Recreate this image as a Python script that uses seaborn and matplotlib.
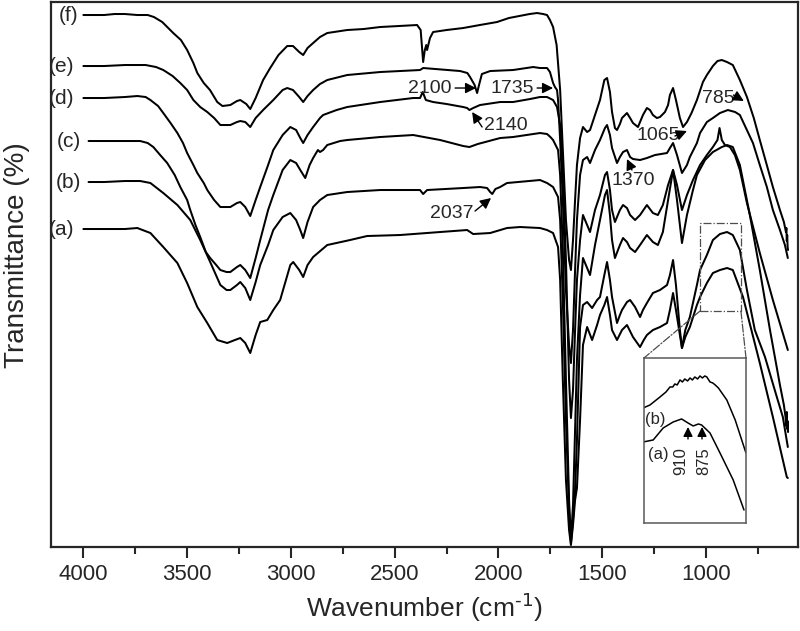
import pandas as pd
import seaborn as sns
import matplotlib.pyplot as plt
from matplotlib.ticker import MultipleLocator
from matplotlib.patches import ConnectionPatch

# DATA ----------------------------------------------------------------------------
# FTIR spectra (a)-(f), stacked, transmittance in arbitrary offset units
f_pts = [(4000, 532), (3950, 532), (3900, 532), (3850, 533), (3800, 533), (3740, 532), (3690, 532),
         (3660, 530), (3620, 525), (3567, 514), (3530, 507), (3500, 497), (3470, 484), (3451, 474),
         (3420, 464), (3390, 457), (3355, 445), (3330, 441), (3292, 442), (3260, 446), (3244, 447),
         (3215, 443), (3196, 438), (3170, 449), (3134, 467), (3100, 479), (3060, 492), (3018, 501),
         (2990, 501), (2960, 495), (2941, 492), (2920, 499), (2893, 504), (2860, 510), (2825, 514),
         (2729, 517), (2650, 518), (2570, 520), (2480, 521), (2392, 522), (2375, 517), (2363, 485),
         (2355, 497), (2348, 502), (2344, 497), (2330, 509), (2315, 515), (2250, 517), (2170, 519),
         (2090, 522), (2007, 525), (1950, 529), (1900, 531), (1850, 533), (1814, 534), (1785, 533),
         (1766, 532), (1752, 527), (1737, 520), (1720, 502), (1703, 457), (1690, 397), (1675, 327),
         (1660, 287), (1651, 277), (1641, 307), (1631, 347), (1622, 382), (1607, 409), (1593, 420),
         (1573, 415), (1559, 417), (1535, 432), (1511, 447), (1490, 467), (1477, 469), (1463, 455),
         (1453, 435), (1439, 419), (1429, 417), (1415, 423), (1405, 429), (1381, 434), (1366, 429),
         (1352, 424), (1328, 420), (1304, 432), (1285, 439), (1270, 437), (1256, 432), (1237, 429),
         (1222, 430), (1198, 435), (1183, 442), (1174, 452), (1159, 459), (1145, 447), (1126, 429),
         (1111, 420), (1092, 425), (1070, 434), (1044, 447), (1015, 465), (996, 472), (967, 481),
         (945, 486), (924, 487), (899, 485), (871, 482), (837, 467), (803, 450), (770, 429),
         (741, 407), (710, 384), (678, 360), (644, 337), (625, 325), (615, 315), (613, 319),
         (611, 306), (609, 312), (607, 300), (605, 297)]

e_pts = [(4000, 481), (3900, 481), (3800, 482), (3700, 482), (3650, 480), (3615, 477), (3570, 471),
         (3533, 464), (3500, 457), (3470, 447), (3437, 440), (3403, 435), (3370, 429), (3340, 422),
         (3292, 422), (3260, 425), (3244, 426), (3220, 425), (3196, 420), (3170, 429), (3134, 437),
         (3085, 447), (3040, 457), (3018, 459), (2990, 457), (2960, 450), (2941, 445), (2920, 451),
         (2893, 457), (2860, 463), (2825, 467), (2729, 472), (2570, 475), (2378, 477), (2363, 479),
         (2185, 476), (2150, 474), (2137, 470), (2115, 462), (2103, 454), (2095, 461), (2080, 473),
         (2040, 476), (1930, 477), (1833, 480), (1800, 479), (1766, 479), (1752, 475), (1737, 464),
         (1728, 460), (1718, 457), (1713, 447), (1703, 407), (1690, 347), (1675, 257), (1660, 202),
         (1651, 184), (1641, 217), (1631, 277), (1622, 327), (1607, 372), (1593, 387), (1573, 390),
         (1559, 384), (1535, 397), (1511, 407), (1487, 419), (1477, 422), (1463, 412), (1453, 399),
         (1429, 384), (1415, 390), (1400, 395), (1381, 397), (1366, 390), (1352, 388), (1318, 387),
         (1285, 389), (1246, 392), (1188, 394), (1174, 399), (1159, 404), (1140, 392), (1116, 374),
         (1092, 382), (1078, 390), (1044, 404), (1029, 414), (996, 425), (967, 429), (933, 434),
         (895, 437), (860, 435), (837, 432), (774, 404), (741, 382), (707, 360), (678, 337),
         (644, 317), (620, 302), (606, 289)]

d_pts = [(4000, 449), (3900, 449), (3800, 450), (3740, 451), (3700, 450), (3677, 447), (3640, 441),
         (3615, 434), (3580, 424), (3547, 414), (3520, 404), (3500, 394), (3470, 382), (3451, 374),
         (3420, 364), (3403, 357), (3370, 347), (3340, 340), (3292, 340), (3260, 344), (3244, 345),
         (3220, 340), (3196, 331), (3170, 347), (3148, 360), (3110, 382), (3085, 397), (3040, 412),
         (3003, 420), (2975, 417), (2955, 409), (2941, 404), (2920, 412), (2893, 420), (2860, 429),
         (2845, 432), (2780, 437), (2729, 440), (2570, 445), (2411, 449), (2378, 449), (2365, 455),
         (2350, 447), (2315, 445), (2250, 443), (2170, 440), (2151, 439), (2140, 437), (2122, 439),
         (2089, 442), (1992, 445), (1930, 445), (1848, 448), (1800, 450), (1766, 450), (1737, 447),
         (1718, 440), (1703, 422), (1690, 377), (1675, 287), (1660, 167), (1651, 129), (1641, 157),
         (1631, 217), (1622, 267), (1607, 307), (1593, 332), (1573, 322), (1559, 315), (1535, 337),
         (1511, 352), (1487, 372), (1477, 375), (1463, 357), (1453, 337), (1439, 325), (1415, 337),
         (1400, 342), (1381, 339), (1366, 332), (1342, 327), (1318, 332), (1285, 342), (1256, 334),
         (1232, 332), (1208, 342), (1183, 362), (1159, 377), (1140, 362), (1116, 337), (1092, 352),
         (1063, 367), (1029, 382), (996, 392), (967, 400), (945, 407), (935, 419), (924, 407),
         (909, 402), (885, 400), (861, 392), (837, 377), (803, 344), (741, 294), (678, 247),
         (606, 197)]

c_pts = [(3975, 406), (3900, 406), (3800, 406), (3726, 406), (3690, 404), (3663, 400), (3630, 392),
         (3596, 384), (3560, 372), (3533, 360), (3500, 347), (3485, 337), (3460, 322), (3437, 310),
         (3410, 295), (3389, 289), (3360, 282), (3340, 277), (3310, 275), (3292, 275), (3260, 280),
         (3244, 282), (3220, 277), (3196, 269), (3170, 289), (3148, 307), (3110, 337), (3085, 352),
         (3040, 377), (3003, 387), (2975, 384), (2955, 377), (2931, 369), (2910, 382), (2893, 389),
         (2870, 397), (2860, 395), (2845, 397), (2825, 402), (2763, 406), (2729, 407), (2570, 410),
         (2411, 412), (2281, 407), (2170, 401), (2140, 400), (2100, 403), (1992, 409), (1930, 410),
         (1800, 414), (1766, 413), (1750, 410), (1737, 407), (1713, 397), (1703, 372), (1690, 297),
         (1675, 167), (1660, 47), (1651, 7), (1641, 42), (1631, 117), (1622, 187), (1607, 252),
         (1593, 289), (1573, 279), (1559, 272), (1535, 302), (1511, 327), (1487, 352), (1477, 357),
         (1463, 332), (1453, 307), (1439, 289), (1415, 302), (1400, 309), (1381, 305), (1366, 299),
         (1342, 295), (1318, 302), (1285, 312), (1256, 305), (1232, 302), (1208, 315), (1183, 347),
         (1159, 377), (1140, 347), (1116, 304), (1092, 332), (1063, 357), (1044, 372), (1005, 387),
         (967, 395), (924, 400), (899, 402), (871, 400), (837, 382), (789, 332), (741, 277),
         (692, 217), (644, 162), (625, 142), (617, 130), (614, 121), (611, 135), (609, 118),
         (607, 126), (605, 115)]

b_pts = [(3975, 365), (3900, 365), (3800, 366), (3726, 366), (3677, 364), (3615, 354), (3547, 342),
         (3485, 327), (3437, 307), (3389, 285), (3340, 262), (3310, 257), (3292, 257), (3260, 262),
         (3244, 265), (3220, 259), (3196, 247), (3170, 265), (3148, 282), (3110, 302), (3085, 317),
         (3040, 330), (3003, 334), (2975, 327), (2955, 317), (2941, 309), (2920, 325), (2893, 340),
         (2860, 347), (2825, 352), (2729, 355), (2570, 357), (2378, 357), (2363, 353), (2344, 357),
         (2170, 359), (2089, 360), (2055, 359), (2040, 355), (2030, 353), (2015, 358), (1992, 360),
         (1959, 364), (1800, 367), (1766, 364), (1737, 360), (1713, 350), (1703, 327), (1690, 247),
         (1675, 127), (1660, 37), (1651, 4), (1641, 27), (1631, 57), (1622, 107), (1607, 220),
         (1593, 242), (1573, 245), (1549, 239), (1525, 247), (1511, 250), (1490, 272), (1477, 285),
         (1463, 267), (1453, 250), (1429, 224), (1415, 232), (1405, 237), (1381, 245), (1366, 247),
         (1342, 240), (1318, 230), (1304, 237), (1285, 244), (1256, 254), (1222, 257), (1188, 262),
         (1174, 272), (1159, 287), (1145, 262), (1126, 217), (1116, 199), (1100, 217), (1078, 230),
         (1044, 262), (1029, 277), (996, 292), (967, 307), (933, 313), (899, 315), (871, 312),
         (837, 297), (803, 257), (765, 217), (716, 190), (659, 150), (630, 130), (606, 100)]

a_pts = [(4000, 318), (3900, 318), (3800, 318), (3740, 319), (3677, 314), (3615, 300), (3547, 284),
         (3500, 264), (3451, 240), (3403, 224), (3355, 207), (3307, 204), (3270, 207), (3244, 209),
         (3220, 204), (3196, 194), (3170, 212), (3148, 225), (3114, 227), (3085, 237), (3052, 247),
         (3003, 282), (2989, 285), (2960, 277), (2941, 270), (2920, 282), (2893, 290), (2825, 302),
         (2715, 307), (2633, 311), (2474, 312), (2281, 315), (2151, 317), (2122, 313), (2040, 314),
         (1959, 319), (1896, 320), (1800, 319), (1766, 317), (1737, 314), (1713, 300), (1703, 267),
         (1690, 167), (1675, 67), (1660, 17), (1651, 2), (1641, 22), (1631, 47), (1622, 59),
         (1607, 127), (1593, 202), (1573, 220), (1549, 207), (1525, 222), (1511, 232), (1490, 242),
         (1477, 250), (1463, 232), (1453, 217), (1429, 207), (1405, 217), (1381, 222), (1352, 210),
         (1318, 200), (1300, 207), (1285, 212), (1256, 217), (1222, 220), (1188, 224), (1174, 237),
         (1159, 254), (1145, 237), (1126, 212), (1116, 199), (1100, 210), (1078, 220), (1044, 242),
         (1029, 250), (996, 264), (967, 274), (933, 277), (899, 279), (871, 277), (822, 250),
         (741, 184), (678, 130), (611, 70), (606, 69)]

curve_names = ['(a)', '(b)', '(c)', '(d)', '(e)', '(f)']
curve_points = [a_pts, b_pts, c_pts, d_pts, e_pts, f_pts]

# inset: zoom of (a) and (b) between 1020 and 765 cm-1 (own vertical scale)
inset_b_pts = [(1022, 115), (1005, 118), (980, 126), (965, 131), (955, 136), (948, 136), (943, 139),
               (937, 138), (930, 143), (924, 141), (918, 144), (911, 142), (905, 145), (899, 143),
               (893, 146), (886, 144), (880, 147), (874, 145), (868, 147), (863, 146), (855, 141),
               (848, 140), (842, 138), (834, 135), (813, 123), (792, 103), (770, 76), (765, 70)]
inset_a_pts = [(1022, 81), (997, 83), (972, 95), (947, 101), (926, 104), (910, 100), (897, 97),
               (884, 99), (876, 98), (855, 90), (830, 70), (797, 43), (770, 13)]

# zoom box in the main panel
box_wn = [1029, 832]
box_t = [236, 324]

# FIGURE ----------------------------------------------------------------------------
sns.set_style("ticks")
plt.rcParams['font.family'] = ['Liberation Sans', 'DejaVu Sans']

rows = []
for name, pts in zip(curve_names, curve_points):
    for w, t in pts:
        rows.append({'wn': w, 't': t, 'sample': name})
df = pd.DataFrame(rows)

fig = plt.figure(figsize=(8, 6.31), dpi=100)
ax = fig.add_axes([0.064, 0.1331, 0.9335, 0.8637])

sns.lineplot(data=df, x='wn', y='t', units='sample', estimator=None, sort=False,
             color='black', lw=1.45, ax=ax)

ax.set_xlim(4155, 557)
ax.set_ylim(0, 545)
ax.set_yticks([])
ax.xaxis.set_minor_locator(MultipleLocator(250))
ax.set_xticks([4000, 3500, 3000, 2500, 2000, 1500, 1000])
ax.tick_params(axis='x', which='major', direction='out', length=8, width=1.5, labelsize=16, pad=4)
ax.tick_params(axis='x', which='minor', direction='out', length=5, width=1.5)
for s in ax.spines.values():
    s.set_linewidth(1.6)
ax.set_xlabel(r'Wavenumber (cm$^{\text{-1}}$)', fontsize=19, labelpad=4)
ax.set_ylabel('Transmittance (%)', fontsize=20)
ax.yaxis.set_label_coords(-0.028, 0.535)

# curve labels
label_pos = {'(f)': (4072, 532), '(e)': (4106, 481), '(d)': (4106, 449),
             '(c)': (4072, 406), '(b)': (4072, 365), '(a)': (4106, 318)}
for name, (x, y) in label_pos.items():
    ax.text(x, y, name, fontsize=15, ha='center', va='center')

# peak annotations
arrow = dict(arrowstyle='-|>', color='black', lw=1, mutation_scale=16, shrinkA=0, shrinkB=0)
ax.text(2329, 459, '2100', fontsize=14, ha='center', va='center')
ax.annotate('', xy=(2108, 459), xytext=(2209, 459), arrowprops=arrow)
ax.text(1935, 459, '1735', fontsize=14, ha='center', va='center')
ax.annotate('', xy=(1737, 459), xytext=(1814, 459), arrowprops=arrow)
ax.text(1963, 422, '2140', fontsize=14, ha='center', va='center')
ax.annotate('', xy=(2127, 435), xytext=(2079, 420), arrowprops=arrow)
ax.text(2223, 334, '2037', fontsize=14, ha='center', va='center')
ax.annotate('', xy=(2036, 349), xytext=(2113, 336), arrowprops=arrow)
ax.text(1352, 367, '1370', fontsize=14, ha='center', va='center')
ax.annotate('', xy=(1381, 388), xytext=(1357, 377), arrowprops=arrow)
ax.text(1232, 412, '1065', fontsize=14, ha='center', va='center')
ax.annotate('', xy=(1092, 416), xytext=(1150, 411), arrowprops=arrow)
ax.text(943, 449, '785', fontsize=14, ha='center', va='center')
ax.annotate('', xy=(818, 446), xytext=(868, 452), arrowprops=arrow)

# zoom box
ax.plot([box_wn[0], box_wn[1], box_wn[1], box_wn[0], box_wn[0]],
        [box_t[0], box_t[0], box_t[1], box_t[1], box_t[0]],
        ls='-.', color='0.3', lw=0.9)

# INSET -----------------------------------------------------------------------------
axins = fig.add_axes([0.805, 0.1712, 0.1275, 0.2615])
ins_rows = []
for name, pts in zip(['(a)', '(b)'], [inset_a_pts, inset_b_pts]):
    for w, t in pts:
        ins_rows.append({'wn': w, 't': t, 'sample': name})
dins = pd.DataFrame(ins_rows)
sns.lineplot(data=dins, x='wn', y='t', units='sample', estimator=None, sort=False,
             color='black', lw=1.1, ax=axins)
axins.set_xlim(1020, 765)
axins.set_ylim(0, 165)
axins.set_xticks([])
axins.set_yticks([])
axins.set_xlabel('')
axins.set_ylabel('')
for s in axins.spines.values():
    s.set_linewidth(1.1)
    s.set_color('0.35')
axins.text(992, 103, '(b)', fontsize=12, ha='center', va='center')
axins.text(985, 68, '(a)', fontsize=12, ha='center', va='center')
axins.text(929, 62, '910', fontsize=12, rotation=90, ha='center', va='center')
axins.text(871, 62, '875', fontsize=12, rotation=90, ha='center', va='center')
small = dict(arrowstyle='-|>', color='black', lw=1, mutation_scale=14, shrinkA=0, shrinkB=0)
axins.annotate('', xy=(910, 96), xytext=(910, 84), arrowprops=small)
axins.annotate('', xy=(875, 96), xytext=(875, 84), arrowprops=small)

for xa, xb in [(box_wn[0], 0), (box_wn[1], 1)]:
    con = ConnectionPatch(xyA=(xa, box_t[0]), coordsA=ax.transData, xyB=(xb, 1),
                          coordsB=axins.transAxes, ls='-.', color='0.3', lw=0.9)
    fig.add_artist(con)

fig.savefig('out.png', dpi=100)
